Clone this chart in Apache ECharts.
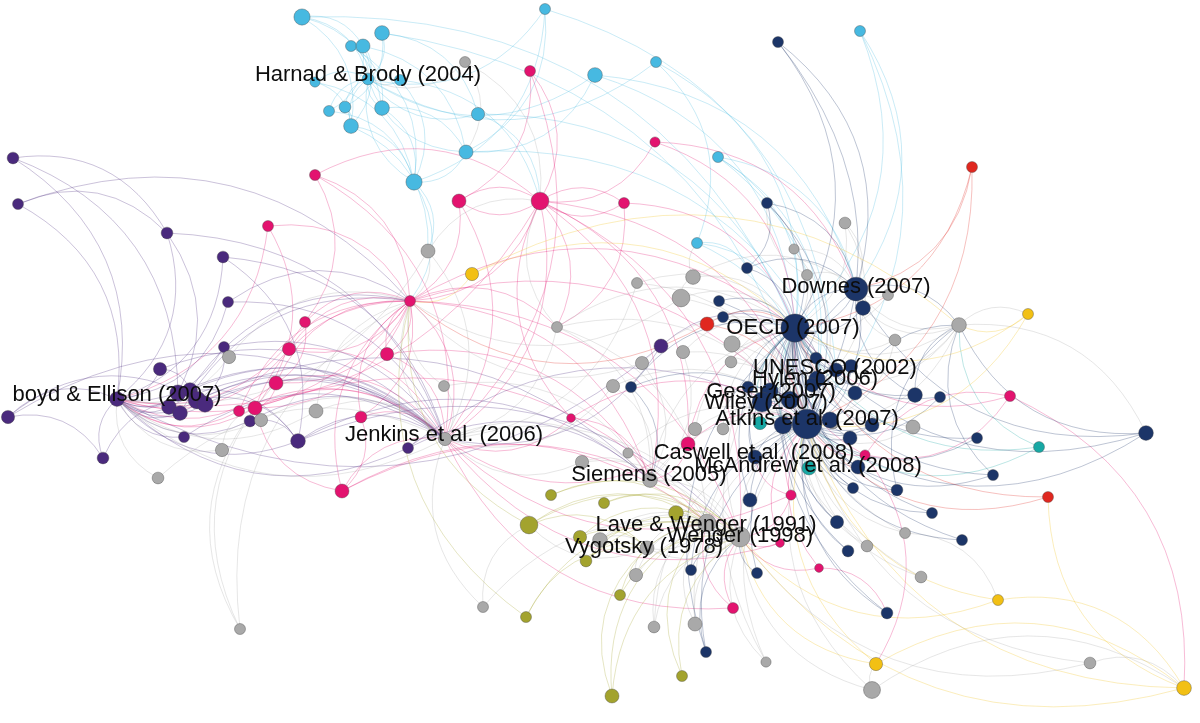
<!DOCTYPE html>
<html>
<head>
<meta charset="utf-8">
<script src="https://cdn.jsdelivr.net/npm/echarts@6/dist/echarts.min.js"></script>
<style>
  html, body { margin: 0; padding: 0; background: #fff; }
  #chart { width: 1200px; height: 723px; }
</style>
</head>
<body>
<div id="chart"></div>
<script>
// node rows: [id, x, y, links-in count]  (x/y in layout units of the picture)
const oerNodes = [
  ['n1', 778, 42, 4], ['n2', 767, 203, 4], ['n3', 747, 268, 4], ['n4', 719, 301, 4],
  ['n5', 723, 317, 4], ['oecd', 795, 328, 27], ['downes', 856, 289, 21], ['n6', 863, 308, 9],
  ['n34', 816, 358, 5], ['n7', 851, 366, 7], ['unesco', 836, 370, 8], ['hylen', 817, 379, 11],
  ['geser', 770, 391, 11], ['n8', 748, 387, 5], ['wiley', 762, 402, 16], ['n9', 790, 400, 13],
  ['n10', 812, 385, 8], ['n11', 783, 425, 13], ['n12', 830, 420, 11], ['n13', 855, 393, 8],
  ['n14', 850, 438, 8], ['n15', 872, 425, 8], ['n16', 915, 395, 9], ['n17', 940, 397, 4],
  ['n18', 631, 387, 4], ['atkins', 807, 424, 29], ['caswell', 755, 457, 8], ['n19', 858, 467, 8],
  ['n20', 853, 488, 4], ['n21', 897, 490, 5], ['n22', 750, 500, 8], ['n23', 837, 522, 7],
  ['n24', 848, 551, 5], ['n25', 932, 513, 4], ['n26', 993, 475, 4], ['n27', 977, 438, 4],
  ['n28', 1146, 433, 9], ['n29', 962, 540, 4], ['n30', 887, 613, 5], ['n31', 691, 570, 4],
  ['n32', 757, 573, 4], ['n33', 706, 652, 4]
];
const openAccessNodes = [
  ['b1', 302, 17, 11], ['b2', 351, 46, 4], ['b3', 363, 46, 8], ['b4', 382, 33, 9],
  ['b5', 545, 9, 4], ['b6', 595, 75, 9], ['b7', 656, 62, 4], ['b8', 860, 31, 4],
  ['b9', 315, 82, 3], ['harnad', 368, 79, 5], ['b10', 400, 80, 4], ['b11', 329, 111, 4],
  ['b12', 345, 107, 5], ['b13', 382, 108, 9], ['b14', 351, 126, 9], ['b15', 478, 114, 7],
  ['b16', 466, 152, 8], ['b17', 414, 182, 11], ['b18', 718, 157, 4], ['b19', 697, 243, 4]
];
const mediaNodes = [
  ['m1', 530, 71, 4], ['m2', 655, 142, 3], ['mh1', 540, 201, 13], ['m3', 459, 201, 8],
  ['m4', 624, 203, 4], ['m5', 315, 175, 4], ['m6', 268, 226, 4], ['mh2', 410, 301, 4],
  ['m7', 305, 322, 4], ['m8', 289, 349, 7], ['m9', 387, 354, 7], ['m10', 276, 383, 8],
  ['m11', 255, 408, 8], ['m12', 239, 411, 4], ['m13', 361, 417, 5], ['m14', 342, 491, 8],
  ['m15', 571, 418, 1], ['m16', 688, 444, 8], ['m17', 865, 455, 3], ['m18', 791, 495, 3],
  ['m19', 780, 543, 1], ['m20', 819, 568, 1], ['m21', 733, 608, 4], ['m22', 1010, 396, 4]
];
const socialNodes = [
  ['p1', 13, 158, 5], ['p2', 18, 204, 4], ['p3', 167, 233, 5], ['p4', 223, 257, 5],
  ['p5', 228, 302, 4], ['p6', 224, 347, 4], ['p7', 160, 369, 7], ['boyd', 117, 399, 9],
  ['p8', 178, 393, 11], ['p9', 190, 390, 9], ['p10', 197, 400, 13], ['p11', 169, 407, 9],
  ['p12', 180, 413, 9], ['p13', 205, 404, 11], ['p14', 8, 417, 7], ['p15', 184, 437, 4],
  ['p16', 250, 421, 5], ['p17', 298, 441, 9], ['p18', 103, 458, 5], ['p19', 408, 448, 4],
  ['p20', 661, 346, 8]
];
const otherNodes = [
  ['g1', 465, 62, 4], ['g2', 428, 251, 8], ['g3', 557, 327, 4], ['g4', 637, 283, 4],
  ['g5', 681, 298, 13], ['g6', 693, 277, 9], ['g7', 794, 249, 3], ['g8', 845, 223, 5],
  ['g9', 959, 325, 9], ['g10', 895, 340, 5], ['g11', 732, 344, 11], ['g12', 731, 362, 5],
  ['g13', 683, 352, 7], ['g14', 642, 363, 7], ['g15', 613, 386, 7], ['g16', 229, 357, 7],
  ['g17', 316, 411, 8], ['g18', 261, 420, 7], ['g19', 222, 450, 7], ['g20', 158, 478, 5],
  ['g21', 444, 386, 4], ['jenkins', 445, 439, 7], ['g22', 240, 629, 4], ['g23', 483, 607, 4],
  ['g24', 582, 462, 7], ['g25', 628, 453, 3], ['siemens', 650, 480, 9], ['g26', 695, 429, 7],
  ['g27', 723, 429, 5], ['g28', 833, 423, 5], ['lave', 707, 523, 13], ['wenger', 740, 537, 16],
  ['g29', 600, 540, 9], ['vygotsky', 647, 548, 8], ['g30', 636, 575, 7], ['g31', 654, 627, 5],
  ['g32', 695, 624, 8], ['g33', 766, 662, 3], ['g34', 872, 690, 12], ['g35', 867, 546, 5],
  ['g36', 905, 533, 4], ['g37', 921, 577, 5], ['g38', 1090, 663, 5], ['g39', 913, 427, 8],
  ['g40', 888, 295, 4], ['g41', 807, 275, 4]
];
const learningNodes = [
  ['o1', 529, 525, 13], ['o2', 551, 495, 4], ['o3', 604, 503, 4], ['o4', 676, 513, 9],
  ['o5', 580, 537, 7], ['o6', 586, 561, 5], ['o7', 620, 595, 4], ['o8', 526, 617, 4],
  ['o9', 682, 676, 4], ['o10', 612, 696, 8]
];
const policyNodes = [['r1', 707, 324, 8], ['r2', 972, 167, 4], ['r3', 1048, 497, 4]];
const designNodes = [['y1', 472, 274, 7], ['y2', 1028, 314, 4], ['y3', 998, 600, 4], ['y4', 876, 664, 7], ['y5', 1184, 688, 9]];
const toolNodes = [['t1', 760, 423, 7], ['mcandrew', 809, 468, 8], ['t2', 1039, 447, 4]];

// label text and where its centre sits in the picture
const labels = [
  ['harnad', 'Harnad & Brody (2004)', 368, 75],
  ['downes', 'Downes (2007)', 856, 287],
  ['oecd', 'OECD (2007)', 793, 328],
  ['unesco', 'UNESCO (2002)', 835, 368],
  ['hylen', 'Hylén (2006)', 815, 379],
  ['geser', 'Geser (2007)', 771, 392],
  ['wiley', 'Wiley (2007)', 766, 403],
  ['atkins', 'Atkins et al. (2007)', 807, 419],
  ['caswell', 'Caswell et al. (2008)', 754, 453],
  ['mcandrew', 'McAndrew et al. (2008)', 808, 466],
  ['siemens', 'Siemens (2005)', 649, 475],
  ['lave', 'Lave & Wenger (1991)', 706, 525],
  ['wenger', 'Wenger (1998)', 740, 536],
  ['vygotsky', 'Vygotsky (1978)', 644, 547],
  ['jenkins', 'Jenkins et al. (2006)', 444, 435],
  ['boyd', 'boyd & Ellison (2007)', 117, 395]
];

// who cites whom
const cites = {
  b1: 'harnad b3 b13 b14 oecd', b2: 'harnad b13 b17', b3: 'harnad b11 b14 b16', b4: 'harnad b12 b15 atkins',
  b5: 'harnad b16 b17 unesco', b6: 'harnad b16 downes oecd', b7: 'harnad b19 oecd', b8: 'oecd downes atkins',
  b9: 'harnad b14 b17', b10: 'harnad b17 mh1', b11: 'harnad b17', b12: 'harnad b14', b13: 'harnad b16 b17',
  b14: 'harnad b17 g2', b15: 'harnad mh1 oecd', b16: 'harnad b17 unesco', b17: 'harnad g2 mh2',
  b18: 'oecd atkins hylen downes', b19: 'oecd n3 atkins',
  m1: 'mh1 m3 jenkins', m2: 'mh1 downes oecd',
  mh1: 'jenkins mh2 g3 siemens atkins m4 m3 wenger m16 boyd',
  m3: 'mh1 mh2 jenkins', m4: 'mh1 oecd g3', m5: 'mh1 mh2 m7 jenkins', m6: 'mh2 boyd m11',
  mh2: 'jenkins boyd m10 m11 m13 g3 siemens atkins wenger m9 m8 oecd',
  m7: 'mh2 boyd m10', m8: 'mh2 boyd jenkins', m9: 'mh2 jenkins siemens', m10: 'mh2 boyd jenkins m11',
  m11: 'mh2 boyd jenkins lave', m12: 'boyd mh2 jenkins', m13: 'jenkins mh2 m14', m14: 'jenkins mh2 m11 lave wenger',
  m15: 'jenkins siemens atkins mh1', m16: 'atkins oecd siemens jenkins', m17: 'atkins oecd y4 m22',
  m18: 'atkins caswell wenger jenkins', m19: 'wenger atkins jenkins', m20: 'atkins n30 wenger',
  m21: 'wenger jenkins lave', m22: 'oecd m17 y5',
  p1: 'p3 boyd p8', p2: 'p3 boyd mh2', p3: 'boyd p11 jenkins', p4: 'boyd jenkins p17', p5: 'boyd jenkins mh2',
  p6: 'boyd jenkins p10', p7: 'boyd p9 jenkins', p8: 'boyd jenkins p17',
  p9: 'boyd jenkins mh2', p10: 'boyd jenkins p17 siemens', p11: 'boyd jenkins', p12: 'boyd jenkins mh2',
  p13: 'boyd jenkins', p14: 'boyd p10 p18 jenkins', p15: 'boyd jenkins', p16: 'boyd jenkins p17',
  p17: 'jenkins boyd siemens wenger', p18: 'boyd p10', p19: 'jenkins boyd atkins siemens', p20: 'oecd jenkins boyd',
  g1: 'harnad mh1 b16', g2: 'mh2 mh1 boyd jenkins', g3: 'mh1 siemens oecd atkins jenkins lave',
  g4: 'oecd atkins jenkins', g5: 'oecd atkins mh2 g6', g6: 'oecd downes b19', g7: 'downes oecd atkins',
  g8: 'downes oecd unesco', g9: 'downes oecd atkins unesco hylen n28 n6 y2', g10: 'oecd downes atkins',
  g11: 'oecd atkins wiley', g12: 'oecd atkins', g13: 'oecd atkins siemens', g14: 'oecd siemens mh2',
  g15: 'siemens atkins jenkins', g16: 'boyd mh2', g17: 'boyd jenkins mh2', g18: 'boyd jenkins', g19: 'boyd m11',
  g20: 'boyd jenkins', g21: 'jenkins mh2 siemens', jenkins: 'boyd mh2 siemens wenger', g22: 'm11 m10 mh2',
  g23: 'o1 jenkins wenger', g24: 'siemens lave jenkins', g25: 'siemens atkins', siemens: 'wenger lave atkins oecd',
  g26: 'atkins oecd', g27: 'atkins oecd', g28: 'atkins oecd', lave: 'wenger vygotsky atkins',
  wenger: 'lave vygotsky atkins oecd', g29: 'wenger vygotsky lave', vygotsky: 'lave wenger o1',
  g30: 'wenger lave vygotsky', g31: 'wenger lave atkins', g32: 'wenger atkins lave', g33: 'atkins wenger oecd',
  g34: 'atkins wenger y5 y4', g35: 'atkins oecd', g36: 'atkins oecd y3', g37: 'atkins oecd', g38: 'y5 atkins wenger',
  g39: 'atkins oecd', g40: 'downes oecd', g41: 'downes oecd n2',
  n1: 'oecd downes atkins', n2: 'oecd downes atkins n3', n3: 'oecd downes', n4: 'oecd atkins', n5: 'oecd atkins',
  oecd: 'atkins downes unesco hylen wiley', downes: 'oecd atkins g9', n6: 'downes oecd', n34: 'oecd atkins',
  unesco: 'oecd atkins', hylen: 'oecd atkins unesco', n7: 'oecd atkins', geser: 'oecd atkins wiley',
  n8: 'oecd atkins', wiley: 'oecd atkins', n9: 'oecd atkins', n10: 'oecd atkins', atkins: 'oecd downes unesco',
  n11: 'atkins oecd', n12: 'atkins oecd', n13: 'atkins oecd g9', n14: 'atkins oecd', n15: 'atkins oecd',
  n16: 'atkins oecd g9 downes', n17: 'atkins oecd', n18: 'oecd atkins siemens', caswell: 'atkins oecd wiley',
  n19: 'atkins oecd', n20: 'atkins oecd', n21: 'atkins oecd g9', n22: 'atkins oecd wenger', n23: 'atkins oecd',
  n24: 'atkins oecd', n25: 'atkins oecd', n26: 'atkins oecd g9', n27: 'atkins oecd', n28: 'atkins oecd downes g9',
  n29: 'atkins oecd', n30: 'atkins oecd', n31: 'atkins wenger', n32: 'atkins wenger', n33: 'atkins wenger oecd',
  t1: 'atkins oecd', mcandrew: 'atkins oecd', t2: 'atkins oecd g9',
  r1: 'oecd mh2 atkins', r2: 'downes oecd atkins', r3: 'oecd atkins',
  y1: 'mh2 oecd g9', y2: 'g9 oecd atkins', y3: 'atkins wenger y5', y4: 'atkins wenger y5', y5: 'atkins wenger r3',
  o1: 'lave vygotsky wenger mh2', o2: 'lave wenger', o3: 'lave wenger', o4: 'lave wenger', o5: 'lave vygotsky',
  o6: 'vygotsky lave wenger', o7: 'lave wenger', o8: 'lave vygotsky mh2', o9: 'wenger lave', o10: 'lave vygotsky wenger'
};

const groups = [
  { name: 'Social media', rows: socialNodes, color: '#4a2a7d' },
  { name: 'Other', rows: otherNodes, color: '#a9a9a9' },
  { name: 'Media', rows: mediaNodes, color: '#e3136f' },
  { name: 'Open access', rows: openAccessNodes, color: '#47b9e1' },
  { name: 'Learning', rows: learningNodes, color: '#a3a32e' },
  { name: 'Design', rows: designNodes, color: '#f2c014' },
  { name: 'Policy', rows: policyNodes, color: '#e0271f' },
  { name: 'Tools', rows: toolNodes, color: '#17a8a4' },
  { name: 'OER', rows: oerNodes, color: '#1c3568' }
];

const nodes = [];
groups.forEach((g, ci) => {
  g.rows.forEach(([id, x, y, n]) => {
    nodes.push({ name: id, value: [x, y], category: ci, symbolSize: 8 + 0.75 * n });
  });
});

const links = [];
Object.keys(cites).forEach((src) => {
  cites[src].split(' ').forEach((tgt) => links.push({ source: src, target: tgt }));
});

const chart = echarts.init(document.getElementById('chart'));
chart.setOption({
  backgroundColor: '#fff',
  animation: false,
  grid: { left: 0, right: 0, top: 0, bottom: 0 },
  xAxis: { type: 'value', min: 0, max: 1200, show: false },
  yAxis: { type: 'value', min: 0, max: 723, inverse: true, show: false },
  series: [
    {
      type: 'graph',
      coordinateSystem: 'cartesian2d',
      layout: 'none',
      categories: groups.map((g) => ({ name: g.name, itemStyle: { color: g.color } })),
      data: nodes,
      links: links,
      label: { show: false },
      itemStyle: { borderColor: 'rgba(70,70,70,0.55)', borderWidth: 0.7 },
      lineStyle: { color: 'source', width: 0.8, opacity: 0.36, curveness: 0.34 },
      emphasis: { disabled: true }
    },
    {
      // node titles drawn over every node
      type: 'scatter',
      z: 10,
      symbolSize: 0,
      silent: true,
      itemStyle: { opacity: 1 },
      data: labels.map(([id, text, x, y]) => ({ name: text, value: [x, y] })),
      label: {
        show: true,
        position: 'inside',
        formatter: '{b}',
        color: '#0d0d0d',
        opacity: 1,
        fontFamily: 'Liberation Sans, Arial, sans-serif',
        fontSize: 22
      }
    }
  ]
});
</script>
</body>
</html>
